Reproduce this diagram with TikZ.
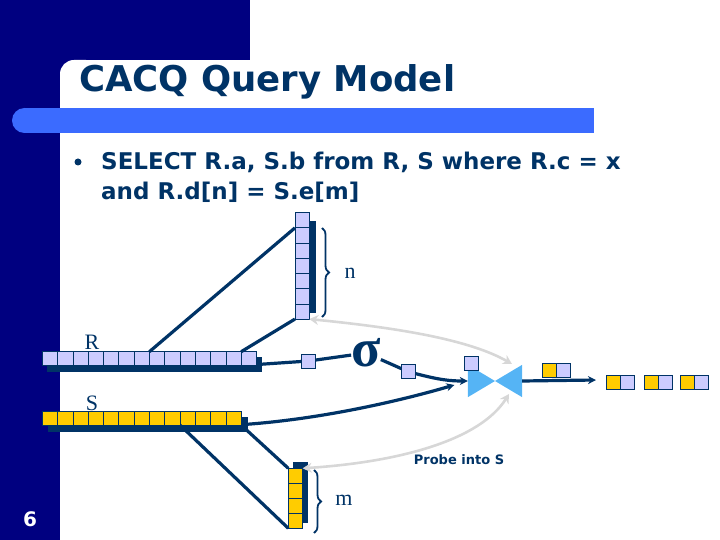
\documentclass[tikz,border=0pt]{standalone}
\usepackage{fontspec}
\setmainfont{Liberation Serif}
\newfontfamily\slidefont{DejaVu Sans}
\usetikzlibrary{arrows.meta, positioning, decorations.pathreplacing}
\definecolor{slidenavy}{RGB}{0,0,128}
\definecolor{inkblue}{RGB}{0,51,102}
\definecolor{barblue}{RGB}{59,107,255}
\definecolor{tuplelav}{RGB}{204,204,255}
\definecolor{tupleyel}{RGB}{255,204,0}
\definecolor{joinblue}{RGB}{85,180,245}
\definecolor{probegray}{RGB}{215,215,215}

\begin{document}
\begin{tikzpicture}[x=1pt, y=-1pt, on grid, >={Stealth[length=8pt,width=8pt]},
    cell/.style={draw=inkblue, line width=0.8pt, inner sep=0pt, outer sep=0pt},
    rcell/.style={cell, fill=tuplelav, minimum width=15.3pt, minimum height=13.4pt},
    scell/.style={cell, fill=tupleyel, minimum width=15.3pt, minimum height=13.4pt},
    colcell/.style={cell, minimum width=14.4pt, minimum height=15.2pt},
    tuple/.style={cell, minimum size=14pt},
    shadowbar/.style={fill=inkblue, inner sep=0pt, outer sep=0pt, anchor=north west},
    flow/.style={draw=inkblue, line width=3.2pt},
    probe/.style={draw=probegray, line width=2.6pt,
      {Stealth[length=9pt,width=10pt]}-{Stealth[length=9pt,width=10pt]}},
    brc/.style={draw=inkblue, line width=1.8pt, decorate, decoration={brace, amplitude=7pt}},
    lbl/.style={text=inkblue, font=\fontsize{22}{22}\selectfont, inner sep=0pt}]
  \useasboundingbox (0,0) rectangle (720,540);
  % slide background
  \fill[slidenavy] (0,0) rectangle (60,540);
  \fill[slidenavy] (0,0) rectangle (250,60);
  \fill[slidenavy] (60,60) rectangle (80,80);
  \fill[white, rounded corners=14pt] (60,100) -- (60,60) -- (100,60) -- (100,100) -- cycle;
  \fill[barblue] (24,108) rectangle (594,133);
  \fill[barblue] (24.5,120.5) circle[radius=12.5];
  \node[anchor=base west, text=inkblue, inner sep=0pt,
    font=\slidefont\bfseries\fontsize{35.5}{35.5}\selectfont] (title) at (79,92) {CACQ Query Model};
  \node[circle, fill=inkblue, minimum size=7pt, inner sep=0pt] (dot) at (78,162) {};
  \node[anchor=north west, text=inkblue, inner sep=0pt, align=left,
    font=\slidefont\bfseries\fontsize{23}{30}\selectfont] (query) at (101,152)
    {SELECT R.a, S.b from R, S where R.c = x\\and R.d[n] = S.e[m]};
  \node[text=white, font=\slidefont\bfseries\fontsize{20}{20}\selectfont] (page) at (30,519) {6};

  % shadows
  \node[shadowbar, minimum width=215pt, minimum height=15pt] (rsh) at (46.7,356.7) {};
  \node[shadowbar, minimum width=200pt, minimum height=15pt] (ssh) at (48,416.7) {};
  \node[shadowbar, minimum width=6.7pt, minimum height=92pt] (rcsh) at (309.3,221) {};
  \node[shadowbar, minimum width=14.7pt, minimum height=61.6pt] (scsh) at (293.3,461.7) {};

  % streams and indexes
  \node[rcell] (r1) at (49.95,358.4) {};
  \foreach \i [remember=\i as \j (initially 1)] in {2,...,14}
    \node[rcell] (r\i) [right=15.3pt of r\j] {};
  \node[scell] (s1) at (49.95,418.4) {};
  \foreach \i [remember=\i as \j (initially 1)] in {2,...,13}
    \node[scell] (s\i) [right=15.3pt of s\j] {};
  \node[colcell, fill=tuplelav] (rc1) at (302.1,220.3) {};
  \foreach \i [remember=\i as \j (initially 1)] in {2,...,7}
    \node[colcell, fill=tuplelav] (rc\i) [below=15.2pt of rc\j] {};
  \node[colcell, fill=tupleyel, minimum height=15pt] (sc1) at (295.5,475.8) {};
  \foreach \i [remember=\i as \j (initially 1)] in {2,...,4}
    \node[colcell, fill=tupleyel, minimum height=15pt] (sc\i) [below=15pt of sc\j] {};

  % select and join
  \node[tuple, fill=tuplelav] (q1) at (308.7,361) {};
  \node[inner sep=0pt, text=inkblue, font=\bfseries\fontsize{54}{54}\selectfont] (sig) at (366,353) {σ};
  \node[tuple, fill=tuplelav] (q2) at (408.3,371.7) {};
  \node[minimum width=54pt, minimum height=32pt, inner sep=0pt] (join) at (495,381) {};
  \fill[joinblue] (join.north west) -- (join.south west) -- (join.north east) -- (join.south east) -- cycle;
  \node[tuple, fill=tuplelav] (q3) at (471.5,363) {};
  \coordinate (out) at (596,380);
  \coordinate (jtop) at (512,364);
  \coordinate (jbot) at (509,394);

  \draw[flow] (rsh.east) -- (q1);
  \draw[flow] (q1) -- (sig);
  \draw[flow] (sig) -- (q2);
  \draw[flow, ->] (q2) .. controls (440,380) and (450,381) .. (join.west);
  \draw[flow, ->, shorten >=14pt] (ssh.east) .. controls (330,418) and (410,398) .. (join.west);
  \draw[flow, ->] (join.east) -- (out);
  \draw[flow] (r7.north east) -- (rc1.south west);
  \draw[flow] (r13.north east) -- (rc7.south west);
  \draw[flow] (s9.south east) -- (sc4.south west);
  \draw[flow] (s13.south east) -- (sc1.north west);

  % results
  \node[tuple, fill=tupleyel] (o1) at (549.5,370.3) {};
  \node[tuple, fill=tuplelav] (o2) [right=14pt of o1] {};
  \foreach \n/\x in {1/613.3, 2/651.6, 3/687.5} {
    \node[tuple, fill=tupleyel] (p\n a) at (\x,382.2) {};
    \node[tuple, fill=tuplelav] (p\n b) [right=14pt of p\n a] {};
  }

  % probes
  \draw[probe] (rc7.south east) .. controls (400,328) and (470,340) .. (jtop);
  \draw[probe] (jbot) .. controls (480,440) and (400,462) .. (sc1.north east);
  \node[text=inkblue, font=\slidefont\bfseries\fontsize{13}{13}\selectfont] (probelbl) at (459,460) {Probe into S};

  \draw[brc] (322,228) -- (322,317);
  \draw[brc] (314,470) -- (314,533);
  \node[lbl] (nlab) at (350,273) {n};
  \node[lbl] (mlab) at (344,500) {m};
  \node[lbl] (rlab) at (92,342) {R};
  \node[lbl] (slab) at (92,403) {S};
\end{tikzpicture}
\end{document}
